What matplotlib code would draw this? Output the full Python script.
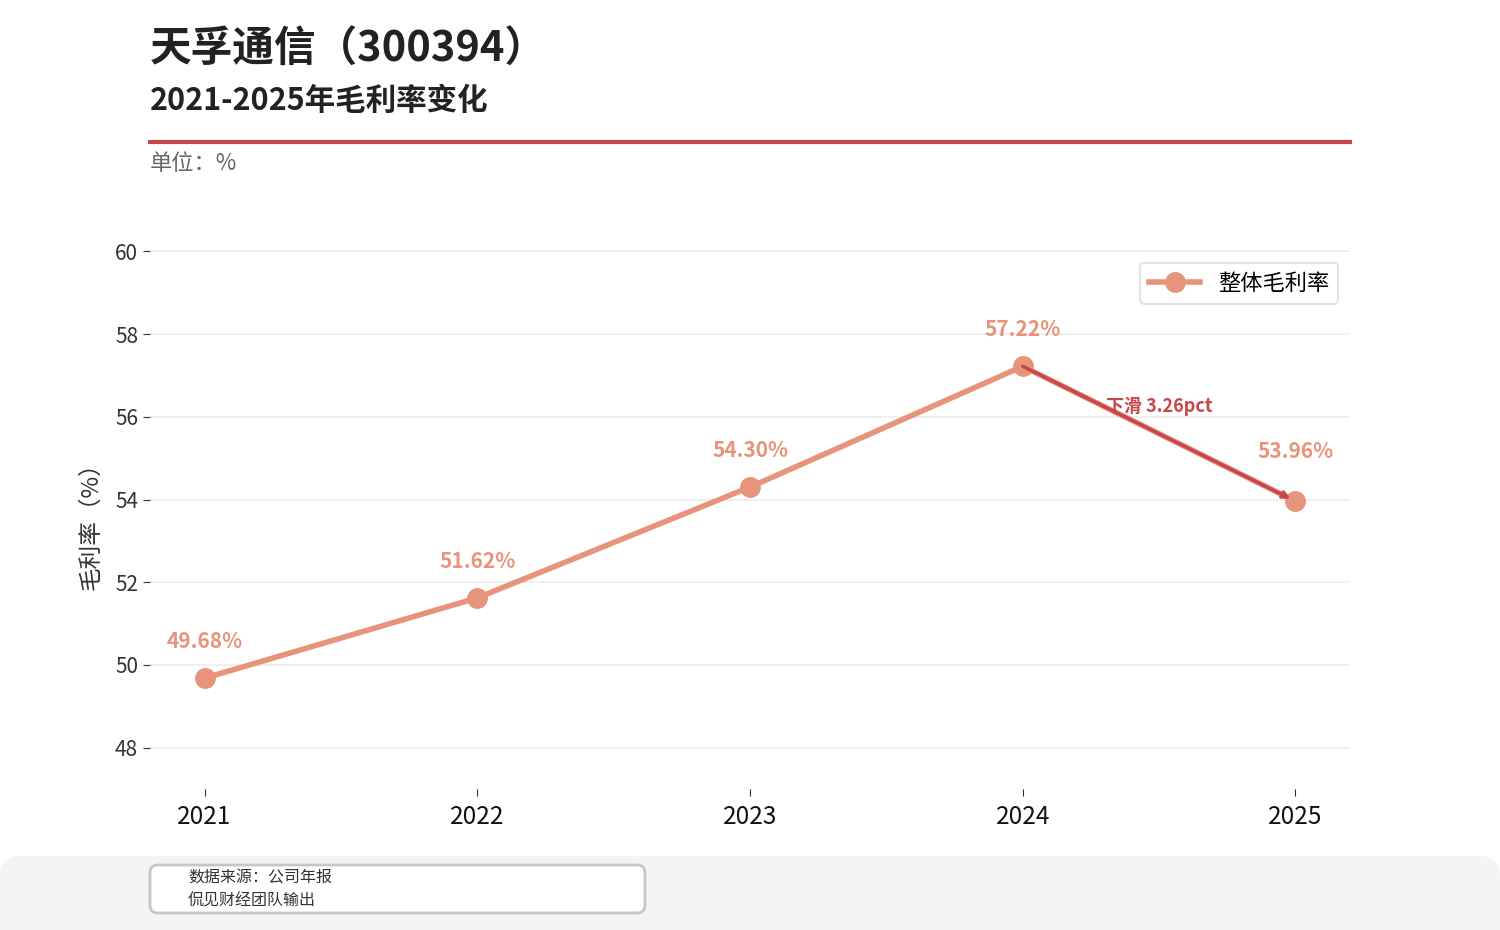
import matplotlib
matplotlib.use('Agg')
import matplotlib.pyplot as plt
from matplotlib.patches import FancyBboxPatch

plt.rcParams['font.family'] = ['Noto Sans CJK SC', 'DejaVu Sans']

# 数据
years = ['2021', '2022', '2023', '2024', '2025']
gross_margin = [49.68, 51.62, 54.30, 57.22, 53.96]
series_name = '整体毛利率'
title = '天孚通信（300394）'
subtitle = '2021-2025年毛利率变化'
unit_text = '单位：%'
ylabel = '毛利率（%）'
arrow_text = '下滑 3.26pct'
source_lines = ['数据来源：公司年报', '侃见财经团队输出']

LINE_COLOR = '#E8937C'
RED = '#C8474C'

fig = plt.figure(figsize=(15, 9.3), dpi=100)

# 背景层，用像素坐标
bg = fig.add_axes([0, 0, 1, 1])
bg.set_xlim(0, 1500)
bg.set_ylim(930, 0)
bg.axis('off')
bg.add_patch(FancyBboxPatch((0, 856), 1500, 100, boxstyle='round,pad=0,rounding_size=20',
                            facecolor='#f4f4f4', edgecolor='none'))
bg.add_patch(FancyBboxPatch((150, 865), 495, 48, boxstyle='round,pad=0,rounding_size=8',
                            facecolor='white', edgecolor='#c6c6c6', linewidth=2))
bg.text(188, 878, source_lines[0], fontsize=11.5, color='#333333', va='center')
bg.text(188, 901, source_lines[1], fontsize=11.5, color='#333333', va='center')
bg.text(150, 50, title, fontsize=30, fontweight='bold', color='#222222', va='center')
bg.text(150, 101, subtitle, fontsize=22, fontweight='bold', color='#222222', va='center')
bg.plot([150, 1350], [142, 142], color=RED, linewidth=3)
bg.text(150, 164, unit_text, fontsize=16, color='#666666', va='center')

# 主图
ax = fig.add_axes([0.1, 1 - 789 / 930, 0.8, (789 - 210) / 930])
x = list(range(len(years)))
ax.plot(x, gross_margin, color=LINE_COLOR, linewidth=4, marker='o', markersize=14,
        label=series_name, zorder=3)
for i, (xi, v) in enumerate(zip(x, gross_margin)):
    dy = 36 if i == len(x) - 1 else 26.5
    ax.annotate(f'{v:.2f}%', (xi, v), xytext=(0, dy), textcoords='offset points',
                ha='center', va='center', fontsize=15, fontweight='bold', color=LINE_COLOR)

ax.annotate('', xy=(x[4], gross_margin[4]), xytext=(x[3], gross_margin[3]),
            arrowprops=dict(arrowstyle='->', color=RED, lw=2.5, shrinkA=0, shrinkB=4), zorder=4)
mid_y = (gross_margin[3] + gross_margin[4]) / 2
ax.text(3.5, mid_y + 0.67, arrow_text, ha='center', va='center', fontsize=13,
        fontweight='bold', color=RED, zorder=5)

ax.set_xlim(-0.2, 4.2)
ax.set_ylim(47, 61)
ax.set_yticks([48, 50, 52, 54, 56, 58, 60])
ax.set_xticks(x)
ax.set_xticklabels(years)
ax.tick_params(axis='x', labelsize=17.5, labelcolor='#111111', length=5, color='#333333', pad=6)
ax.tick_params(axis='y', labelsize=15, labelcolor='#333333', length=5, color='#333333')
ax.set_ylabel(ylabel, fontsize=17, color='#333333')
ax.yaxis.set_label_coords(-0.04, 0.465)
for s in ax.spines.values():
    s.set_visible(False)
ax.grid(axis='y', color='#eeeeee', linewidth=1.2)
ax.set_axisbelow(True)

leg = ax.legend(loc='upper right', bbox_to_anchor=(0.99, 0.9085), borderaxespad=0,
                fontsize=16, frameon=True, fancybox=True, handlelength=2.3)
leg.get_frame().set_edgecolor('#dddddd')
leg.get_frame().set_linewidth(1.5)

fig.savefig('out.png', dpi=100)
